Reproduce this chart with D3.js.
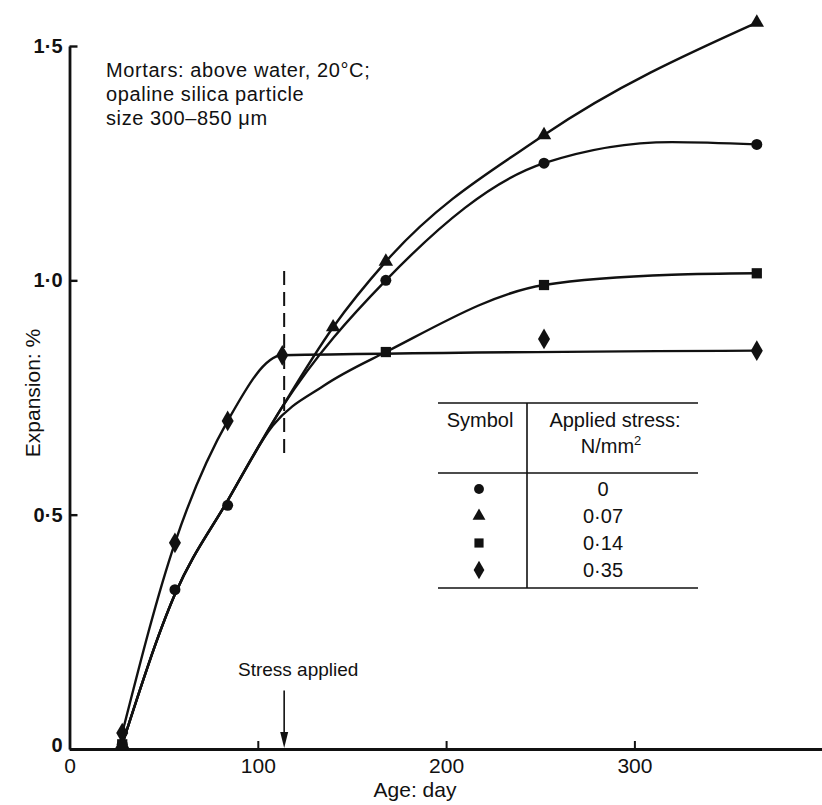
<!DOCTYPE html>
<html><head><meta charset="utf-8">
<script src="https://cdn.jsdelivr.net/npm/d3@7"></script>
<style>
body{margin:0;background:#fff;}
svg text{font-family:"Liberation Sans",Arial,Helvetica,sans-serif;fill:#111;}
</style>
</head><body><svg id="c" width="822" height="805"></svg>
<script>
// ---- data ----
const xTicks = [0, 100, 200, 300];
const yTicks = [0, 0.5, 1.0, 1.5];
const yTickLabels = ["0", "0·5", "1·0", "1·5"];
const stressDay = 114;

const circleDays = [28, 56, 84, 168, 252, 365];
const circleVals = [0.01, 0.34, 0.52, 1.00, 1.25, 1.29];
const triangleDays = [28, 140, 168, 252, 365];
const triangleVals = [0.01, 0.90, 1.04, 1.31, 1.55];
const squareDays = [28, 168, 252, 365];
const squareVals = [0.01, 0.847, 0.99, 1.015];
const diamondDays = [28, 56, 84, 113, 252, 365];
const diamondVals = [0.034, 0.44, 0.70, 0.84, 0.875, 0.85];

// fitted curves (knots)
const circleCurveDays = [28, 56, 84, 113, 168, 252, 320, 365];
const circleCurveVals = [0.01, 0.33, 0.53, 0.73, 1.00, 1.25, 1.295, 1.29];
const triangleCurveDays = [28, 56, 84, 113, 140, 168, 252, 365];
const triangleCurveVals = [0.01, 0.33, 0.53, 0.73, 0.90, 1.04, 1.31, 1.55];
const squareCurveDays = [28, 56, 84, 108, 135, 168, 252, 320, 365];
const squareCurveVals = [0.01, 0.33, 0.53, 0.69, 0.775, 0.847, 0.99, 1.012, 1.015];
const diamondCurveDays = [28, 56, 84, 113, 365];
const diamondCurveVals = [0.034, 0.44, 0.70, 0.84, 0.85];

const legendSymbols = ["circle", "triangle", "square", "diamond"];
const legendLabels = ["0", "0·07", "0·14", "0·35"];
const noteLines = ["Mortars: above water, 20°C;", "opaline silica particle", "size 300–850 μm"];

// ---- drawing ----
const svg = d3.select("#c");
const x = d3.scaleLinear().domain([0, 400]).range([69.5, 822.7]);
const y = d3.scaleLinear().domain([0, 1.5]).range([749, 46]);

const symType = {circle: d3.symbolCircle, triangle: d3.symbolTriangle, square: d3.symbolSquare, diamond: d3.symbolDiamond};
const symSize = {circle: 95, triangle: 90, square: 105, diamond: 125};

// axes
const xAxis = d3.axisBottom(x).tickValues(xTicks).tickSizeInner(-8).tickSizeOuter(0).tickPadding(9).tickFormat(d3.format("d"));
const gx = svg.append("g").attr("transform", `translate(0,${y(0)})`).call(xAxis);
gx.select(".domain").attr("stroke", "#111").attr("stroke-width", 2.8);
gx.selectAll(".tick line").attr("stroke", "#111").attr("stroke-width", 2);
gx.selectAll(".tick text").attr("font-size", 21).attr("fill", "#111").attr("dy", "0.72em");

const yAxis = d3.axisLeft(y).tickValues(yTicks).tickSizeInner(-8).tickSizeOuter(0).tickPadding(7)
  .tickFormat((d, i) => yTickLabels[i]);
const gy = svg.append("g").attr("transform", `translate(${x(0)},0)`).call(yAxis);
gy.select(".domain").attr("stroke", "#111").attr("stroke-width", 2.8);
gy.selectAll(".tick line").attr("stroke", "#111").attr("stroke-width", 2.4);
gy.selectAll(".tick text").attr("font-size", 20).attr("fill", "#111").attr("font-weight", "bold");
gy.selectAll(".tick").filter(d => d === 0).select("text").attr("dy", "0.1em");

svg.append("text").attr("x", 415).attr("y", 797).attr("text-anchor", "middle").attr("font-size", 21).text("Age: day");
svg.append("text").attr("transform", "translate(40,393) rotate(-90)").attr("text-anchor", "middle").attr("font-size", 21).text("Expansion: %");

// curves
const line = d3.line().x(d => x(d[0])).y(d => y(d[1])).curve(d3.curveMonotoneX);
const curves = [
  [circleCurveDays, circleCurveVals],
  [triangleCurveDays, triangleCurveVals],
  [squareCurveDays, squareCurveVals],
  [diamondCurveDays, diamondCurveVals]
];
curves.forEach(([ds, vs]) => {
  svg.append("path").attr("d", line(ds.map((d, i) => [d, vs[i]])))
    .attr("fill", "none").attr("stroke", "#111").attr("stroke-width", 2.4);
});

// markers
const series = [
  ["circle", circleDays, circleVals],
  ["triangle", triangleDays, triangleVals],
  ["square", squareDays, squareVals],
  ["diamond", diamondDays, diamondVals]
];
series.forEach(([s, ds, vs]) => {
  svg.append("g").selectAll("path").data(ds.map((d, i) => [d, vs[i]])).join("path")
    .attr("transform", d => `translate(${x(d[0])},${y(d[1])})`)
    .attr("d", d3.symbol().type(symType[s]).size(symSize[s]))
    .attr("fill", "#111");
});

// stress applied dashed line + arrow
svg.append("line").attr("x1", x(stressDay)).attr("x2", x(stressDay)).attr("y1", y(1.02)).attr("y2", y(0.63))
  .attr("stroke", "#111").attr("stroke-width", 2).attr("stroke-dasharray", "14,7");
svg.append("line").attr("x1", x(stressDay)).attr("x2", x(stressDay)).attr("y1", y(0.125)).attr("y2", y(0) - 12)
  .attr("stroke", "#111").attr("stroke-width", 1.6);
svg.append("path").attr("d", `M${x(stressDay) - 4},${y(0) - 17}L${x(stressDay) + 4},${y(0) - 17}L${x(stressDay)},${y(0) - 1}Z`).attr("fill", "#111");
svg.append("text").attr("x", x(stressDay) + 14).attr("y", 676).attr("text-anchor", "middle").attr("font-size", 19).text("Stress applied");

// note
svg.append("g").selectAll("text").data(noteLines).join("text")
  .attr("x", 106).attr("y", (d, i) => 77 + i * 24).attr("font-size", 20).attr("letter-spacing", 0.6).text(d => d);

// legend table
const lg = svg.append("g");
const L = {x0: 438, x1: 698, xv: 527, top: 403, mid: 473, bot: 588};
[L.top, L.mid, L.bot].forEach(yy => lg.append("line").attr("x1", L.x0).attr("x2", L.x1).attr("y1", yy).attr("y2", yy).attr("stroke", "#111").attr("stroke-width", 1.6));
lg.append("line").attr("x1", L.xv).attr("x2", L.xv).attr("y1", L.top).attr("y2", L.bot).attr("stroke", "#111").attr("stroke-width", 1.6);
lg.append("text").attr("x", 480).attr("y", 427).attr("text-anchor", "middle").attr("font-size", 20).text("Symbol");
lg.append("text").attr("x", 615).attr("y", 427).attr("text-anchor", "middle").attr("font-size", 20).text("Applied stress:");
const nm = lg.append("text").attr("x", 611).attr("y", 453).attr("text-anchor", "middle").attr("font-size", 20);
nm.append("tspan").text("N/mm");
nm.append("tspan").attr("font-size", 13).attr("dy", -8).text("2");
legendSymbols.forEach((s, i) => {
  const yy = 489 + i * 27;
  lg.append("path").attr("transform", `translate(479,${yy})`).attr("d", d3.symbol().type(symType[s]).size(symSize[s] * 0.8)).attr("fill", "#111");
  lg.append("text").attr("x", 603).attr("y", yy + 7).attr("text-anchor", "middle").attr("font-size", 20).text(legendLabels[i]);
});
</script>
</body></html>
